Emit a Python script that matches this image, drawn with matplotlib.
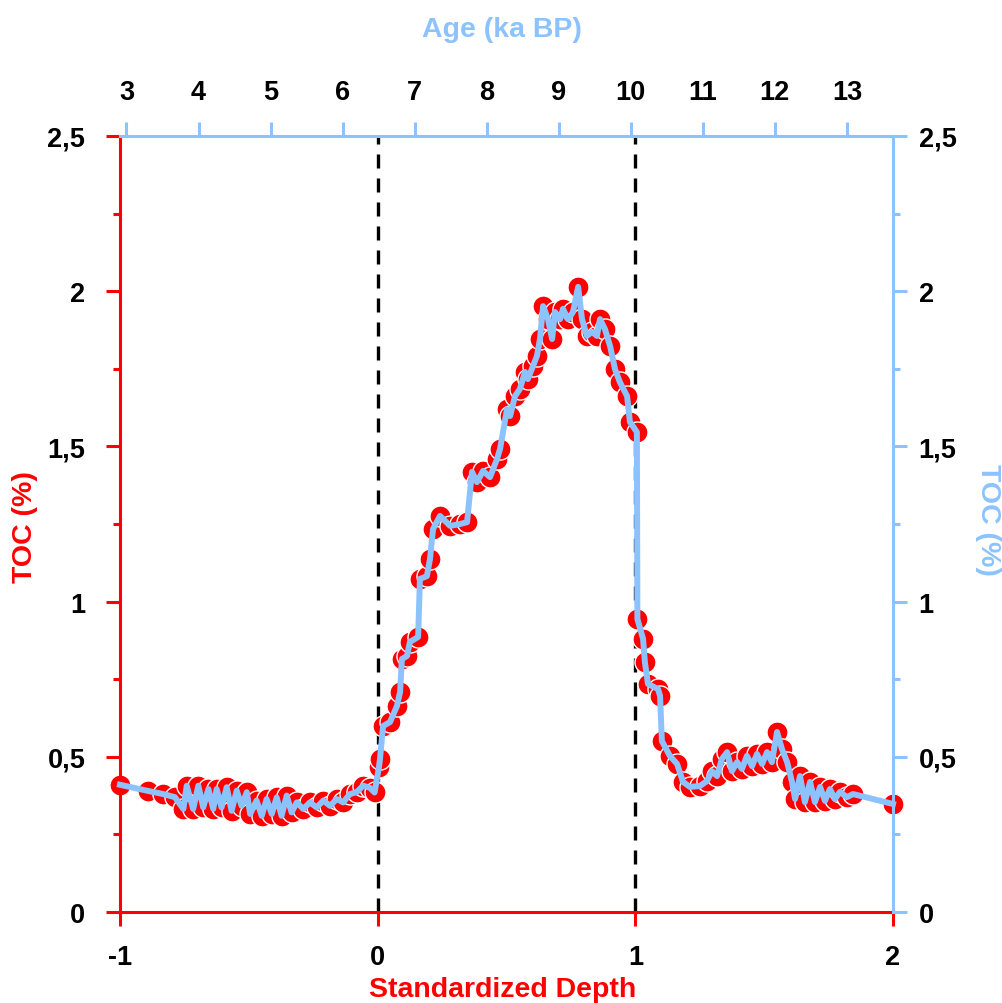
import numpy as np
import matplotlib
matplotlib.use("Agg")
import matplotlib.pyplot as plt
from matplotlib.ticker import MultipleLocator, FuncFormatter

RED = "#FF0000"
BLUE = "#8CC3FF"

# TOC record against standardized depth
depth = [
    -1.000, -0.891, -0.833, -0.787, -0.754, -0.741, -0.716, -0.696, -0.677, -0.657,
    -0.638, -0.625, -0.606, -0.586, -0.567, -0.547, -0.528, -0.508, -0.495, -0.470,
    -0.450, -0.431, -0.411, -0.392, -0.373, -0.353, -0.334, -0.314, -0.289, -0.263,
    -0.237, -0.211, -0.185, -0.159, -0.134, -0.108, -0.082, -0.056, -0.030, -0.012,
    0.005, 0.009, 0.021, 0.048, 0.075, 0.087, 0.094, 0.114, 0.125, 0.157,
    0.164, 0.191, 0.203, 0.215, 0.242, 0.281, 0.320, 0.347, 0.366, 0.385,
    0.409, 0.436, 0.463, 0.475, 0.502, 0.514, 0.533, 0.552, 0.572, 0.583,
    0.603, 0.618, 0.630, 0.642, 0.661, 0.677, 0.688, 0.708, 0.719, 0.739,
    0.758, 0.778, 0.793, 0.812, 0.832, 0.851, 0.863, 0.882, 0.902, 0.921,
    0.940, 0.968, 0.979, 1.006, 1.008, 1.030, 1.037, 1.049, 1.088, 1.096,
    1.103, 1.134, 1.162, 1.185, 1.212, 1.251, 1.278, 1.297, 1.317, 1.336,
    1.356, 1.375, 1.395, 1.414, 1.433, 1.453, 1.472, 1.492, 1.511, 1.530,
    1.550, 1.569, 1.589, 1.608, 1.620, 1.639, 1.658, 1.678, 1.697, 1.717,
    1.736, 1.755, 1.775, 1.794, 1.821, 1.845, 2.000,
]
toc = [
    0.410, 0.390, 0.380, 0.370, 0.332, 0.407, 0.332, 0.407, 0.337, 0.396,
    0.332, 0.396, 0.337, 0.402, 0.326, 0.391, 0.342, 0.386, 0.316, 0.359,
    0.310, 0.364, 0.316, 0.369, 0.310, 0.375, 0.321, 0.353, 0.332, 0.353,
    0.337, 0.359, 0.342, 0.364, 0.353, 0.380, 0.386, 0.407, 0.400, 0.385,
    0.467, 0.493, 0.599, 0.612, 0.664, 0.709, 0.815, 0.825, 0.870, 0.886,
    1.073, 1.082, 1.137, 1.234, 1.276, 1.244, 1.250, 1.256, 1.418, 1.385,
    1.421, 1.401, 1.459, 1.492, 1.620, 1.598, 1.662, 1.685, 1.740, 1.717,
    1.759, 1.791, 1.846, 1.952, 1.910, 1.846, 1.933, 1.910, 1.943, 1.910,
    1.933, 2.014, 1.910, 1.856, 1.869, 1.856, 1.910, 1.878, 1.823, 1.749,
    1.707, 1.662, 1.579, 1.546, 0.944, 0.880, 0.805, 0.735, 0.718, 0.696,
    0.551, 0.503, 0.477, 0.419, 0.403, 0.406, 0.422, 0.454, 0.438, 0.493,
    0.515, 0.454, 0.483, 0.461, 0.503, 0.470, 0.509, 0.477, 0.515, 0.483,
    0.580, 0.525, 0.483, 0.419, 0.364, 0.438, 0.354, 0.419, 0.354, 0.403,
    0.358, 0.396, 0.364, 0.387, 0.370, 0.380, 0.348,
]

# zone boundaries (standardized depth) and the age scale on top
boundaries = [0, 1]
age_limits = (2.91, 13.64)
age_ticks = list(range(3, 14))


def comma(v, pos):
    s = f"{v:g}"
    return s.replace(".", ",")


def style_ticks(axis_obj, color, pad):
    axis_obj.set_tick_params(which="major", length=10, width=2.2, color=color,
                             pad=pad, labelsize=19.5, labelcolor="black")
    axis_obj.set_tick_params(which="minor", length=5, width=2.2, color=color)


def main():
    plt.rcParams["font.family"] = ["Liberation Sans", "DejaVu Sans"]
    plt.rcParams["font.weight"] = "bold"

    fig = plt.figure(figsize=(10.03, 10.04), dpi=100)
    ax = fig.add_axes([120 / 1003, 1 - 913 / 1004, 773 / 1003, 776 / 1004])

    ax.set_xlim(-1, 2)
    ax.set_ylim(0, 2.5)

    for b in boundaries:
        ax.axvline(b, color="black", lw=2.4, linestyle=(0, (4.2, 3.0)), zorder=1)

    ax.scatter(depth, toc, s=230, color=RED, edgecolor="white", linewidth=1.0,
               zorder=2, clip_on=False)
    ax.plot(depth, toc, color=BLUE, lw=4.3, zorder=3, clip_on=False)

    # main axes: red left / bottom
    ax.xaxis.set_major_locator(MultipleLocator(1))
    ax.yaxis.set_major_locator(MultipleLocator(0.5))
    ax.yaxis.set_minor_locator(MultipleLocator(0.25))
    ax.yaxis.set_major_formatter(FuncFormatter(comma))
    ax.xaxis.set_major_formatter(FuncFormatter(comma))
    style_ticks(ax.xaxis, RED, 13)
    style_ticks(ax.yaxis, RED, 15)
    for side in ("top", "right"):
        ax.spines[side].set_visible(False)
    for side in ("left", "bottom"):
        ax.spines[side].set_color(RED)
        ax.spines[side].set_linewidth(2.2)

    # right axis in blue
    axr = ax.twinx()
    axr.set_ylim(0, 2.5)
    axr.yaxis.set_major_locator(MultipleLocator(0.5))
    axr.yaxis.set_minor_locator(MultipleLocator(0.25))
    axr.yaxis.set_major_formatter(FuncFormatter(comma))
    style_ticks(axr.yaxis, BLUE, 8.5)
    for side in ("top", "left", "bottom"):
        axr.spines[side].set_visible(False)
    axr.spines["right"].set_color(BLUE)
    axr.spines["right"].set_linewidth(2.2)

    # top age axis in blue
    axt = ax.twiny()
    axt.set_xlim(*age_limits)
    axt.set_xticks(age_ticks)
    style_ticks(axt.xaxis, BLUE, 12)
    for side in ("bottom", "left", "right"):
        axt.spines[side].set_visible(False)
    axt.spines["top"].set_color(BLUE)
    axt.spines["top"].set_linewidth(2.2)

    for a in (ax, axr, axt):
        for lab in a.get_xticklabels() + a.get_yticklabels():
            lab.set_fontweight("bold")

    fig.text(503 / 1003, 1 - 997 / 1004, "Standardized Depth", color=RED,
             fontsize=20.5, fontweight="bold", ha="center", va="baseline")
    fig.text(502 / 1003, 1 - 37 / 1004, "Age (ka BP)", color=BLUE,
             fontsize=20.5, fontweight="bold", ha="center", va="baseline")
    fig.text(25 / 1003, 1 - 527 / 1004, "TOC (%)", color=RED, rotation=90,
             fontsize=20.5, fontweight="bold", ha="center", va="center")
    fig.text(988 / 1003, 1 - 520 / 1004, "TOC (%)", color=BLUE, rotation=270,
             fontsize=20.5, fontweight="bold", ha="center", va="center")

    fig.savefig("out.png", dpi=100)


if __name__ == "__main__":
    main()
